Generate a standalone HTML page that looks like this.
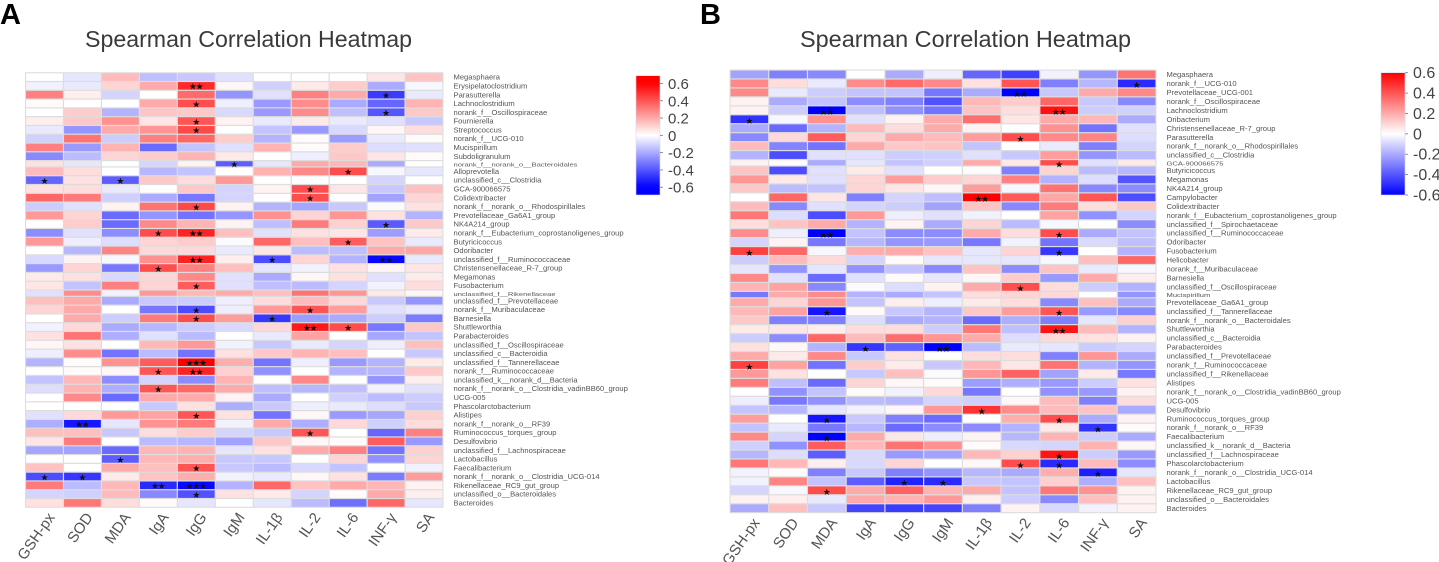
<!DOCTYPE html>
<html lang="en">
<head>
<meta charset="utf-8">
<title>Spearman Correlation Heatmaps</title>
<style>
html,body{margin:0;padding:0;background:#fff;}
body{width:1439px;height:562px;overflow:hidden;}
svg{display:block;font-family:"Liberation Sans","DejaVu Sans",sans-serif;}
</style>
</head>
<body>
<svg id="figure" xmlns="http://www.w3.org/2000/svg" width="1439" height="562" viewBox="0 0 1439 562">
  <text x="0" y="24" font-size="29" font-weight="700" fill="#000">A</text>
  <text x="700" y="24" font-size="29" font-weight="700" fill="#000">B</text>
  <text x="85" y="47" font-size="23" fill="#3a3a3a" textLength="327" lengthAdjust="spacingAndGlyphs">Spearman Correlation Heatmap</text>
  <text x="800" y="47" font-size="23" fill="#3a3a3a" textLength="331" lengthAdjust="spacingAndGlyphs">Spearman Correlation Heatmap</text>
  <g id="panel-a"></g>
  <g id="panel-b"></g>
</svg>
<script>
const categories = ["GSH-px","SOD","MDA","IgA","IgG","IgM","IL-1β","IL-2","IL-6","INF-γ","SA"];

const taxaA = ["Megasphaera","Erysipelatoclostridium","Parasutterella","Lachnoclostridium","norank_f__Oscillospiraceae","Fournierella","Streptococcus","norank_f__UCG-010","Mucispirillum","Subdoligranulum","norank_f__norank_o__Bacteroidales","Alloprevotella","unclassified_c__Clostridia","GCA-900066575","Colidextribacter","norank_f__norank_o__Rhodospirillales","Prevotellaceae_Ga6A1_group","NK4A214_group","norank_f__Eubacterium_coprostanoligenes_group","Butyricicoccus","Odoribacter","unclassified_f__Ruminococcaceae","Christensenellaceae_R-7_group","Megamonas","Fusobacterium","unclassified_f__Rikenellaceae","unclassified_f__Prevotellaceae","norank_f__Muribaculaceae","Barnesiella","Shuttleworthia","Parabacteroides","unclassified_f__Oscillospiraceae","unclassified_c__Bacteroidia","unclassified_f__Tannerellaceae","norank_f__Ruminococcaceae","unclassified_k__norank_d__Bacteria","norank_f__norank_o__Clostridia_vadinBB60_group","UCG-005","Phascolarctobacterium","Alistipes","norank_f__norank_o__RF39","Ruminococcus_torques_group","Desulfovibrio","unclassified_f__Lachnospiraceae","Lactobacillus","Faecalibacterium","norank_f__norank_o__Clostridia_UCG-014","Rikenellaceae_RC9_gut_group","unclassified_o__Bacteroidales","Bacteroides"];

const valuesA = [
[0,-.06,.16,-.15,-.13,-.07,0,0,0,.06,.14],
[-.03,-.05,.1,.2,.5,.02,-.11,.05,.12,-.2,-.02],
[.3,.04,-.1,0,.35,-.25,-.07,.3,.2,-.46,-.05],
[.01,0,0,.2,.42,-.04,-.24,.27,-.2,-.36,.18],
[0,.12,-.18,.14,.13,-.09,-.24,.27,-.15,-.4,.13],
[.04,.13,.26,.06,.4,.03,-.05,.05,-.05,-.07,-.13],
[-.05,-.25,.2,.25,.43,0,-.14,-.24,-.09,.02,.08],
[-.11,.33,-.12,.3,.36,.12,-.18,.01,-.23,-.05,.01],
[.3,-.24,.18,-.35,-.14,-.07,.18,.01,.12,-.08,-.07],
[-.28,-.16,.1,.12,.18,.05,0,-.04,.13,.06,.01],
[.07,-.06,0,-.1,.03,-.38,-.06,.2,.17,-.2,0],
[.16,.08,0,-.17,-.14,0,.18,.28,.42,-.02,-.06],
[-.36,.07,-.38,.13,.08,.24,0,0,0,-.1,0],
[.07,.08,-.05,0,.13,-.1,.03,.42,.06,-.13,.15],
[.36,.31,-.11,-.2,-.32,-.1,0,.42,0,-.22,.1],
[-.12,-.07,.03,.33,.43,.03,-.18,-.21,-.13,-.01,.07],
[.24,.1,-.35,-.25,-.33,-.25,.26,.1,.25,.07,-.18],
[0,.12,-.35,.28,.18,.03,-.15,.31,.11,-.39,.13],
[-.27,-.07,-.27,.42,.52,.15,-.07,.07,.06,-.23,.05],
[.24,-.04,-.08,.1,.12,-.01,.36,.15,.38,.14,-.05],
[0,-.17,.29,.09,.09,-.05,.06,-.16,-.15,.2,.21],
[-.09,.03,-.02,.26,.52,.04,-.42,.1,-.18,-.58,-.05],
[-.24,.1,-.32,.42,.3,.15,-.06,-.03,.07,.02,.06],
[.05,.07,-.09,.1,.28,-.07,-.2,.02,.07,-.07,.05],
[.06,-.14,.3,.1,.38,-.07,-.15,-.16,-.1,-.03,.08],
[-.07,.27,-.03,.24,.17,.2,.15,.33,.25,.05,.02],
[.15,.2,-.2,-.13,-.12,-.04,.08,.16,.09,-.13,-.25],
[.1,.2,0,-.32,-.42,-.04,.24,.4,.23,-.07,-.05],
[0,.2,-.12,.31,.42,.23,-.47,-.23,-.2,-.12,-.31],
[-.03,.09,-.2,-.17,-.12,-.09,.09,.54,.42,-.32,.13],
[.07,.33,-.19,-.07,-.16,0,-.05,.22,0,-.21,-.14],
[.02,.07,0,.17,.24,-.03,-.13,-.05,-.1,-.04,.15],
[-.04,.27,-.33,-.16,-.33,.07,.13,.18,.15,0,-.13],
[-.18,.01,.26,.38,.6,.19,-.33,-.04,-.24,-.18,.05],
[0,.01,.02,.4,.52,.11,-.26,0,-.18,-.17,.13],
[-.14,.17,-.27,-.1,-.27,.18,0,.28,0,-.25,.04],
[-.08,.18,-.19,.4,.36,.2,-.15,-.17,-.15,-.03,-.07],
[0,.28,-.35,.2,.2,.03,-.2,0,-.11,-.16,-.12],
[0,0,0,-.13,.07,-.19,-.13,-.04,-.05,-.08,-.13],
[-.07,.09,.24,.22,.4,.07,-.33,.02,-.24,-.21,.11],
[-.19,-.55,-.06,.26,.31,-.03,.2,-.19,.09,-.11,.08],
[.15,.15,-.13,.08,.12,-.1,-.13,.4,0,-.36,.3],
[.06,.31,0,-.16,-.17,-.22,.13,.02,.01,.38,-.24],
[-.21,-.22,-.35,.17,.18,-.06,.07,.2,.3,-.33,.11],
[0,0,-.38,.17,.19,-.13,-.13,0,.1,-.26,.1],
[.14,0,.2,.15,.4,-.13,-.16,-.09,-.14,0,-.03],
[-.42,-.47,.05,.14,.19,-.03,-.05,.02,.07,-.31,.23],
[.31,-.16,.17,-.5,-.58,-.18,.36,.14,.2,.17,.03],
[-.1,-.11,.16,-.28,-.41,.07,.05,-.1,.01,.2,.04],
[.07,.32,.08,.01,-.06,0,-.06,-.16,-.34,.36,-.06]
];

/* significance: [row number, column number, star count] */
const starsA = [[2,5,2],[3,10,1],[4,5,1],[5,10,1],[6,5,1],[7,5,1],[11,6,1],[12,9,1],[13,1,1],[13,3,1],[14,8,1],[15,8,1],[16,5,1],[18,10,1],[19,4,1],[19,5,2],[20,9,1],[22,5,2],[22,7,1],[22,10,2],[23,4,1],[25,5,1],[28,5,1],[28,8,1],[29,5,1],[29,7,1],[30,8,2],[30,9,1],[34,5,3],[35,4,1],[35,5,2],[37,4,1],[40,5,1],[41,2,2],[42,8,1],[45,3,1],[46,5,1],[47,1,1],[47,2,1],[48,4,2],[48,5,3],[49,5,1]];

const taxaB = ["Megasphaera","norank_f__UCG-010","Prevotellaceae_UCG-001","norank_f__Oscillospiraceae","Lachnoclostridium","Oribacterium","Christensenellaceae_R-7_group","Parasutterella","norank_f__norank_o__Rhodospirillales","unclassified_c__Clostridia","GCA-900066575","Butyricicoccus","Megamonas","NK4A214_group","Campylobacter","Colidextribacter","norank_f__Eubacterium_coprostanoligenes_group","unclassified_f__Spirochaetaceae","unclassified_f__Ruminococcaceae","Odoribacter","Fusobacterium","Helicobacter","norank_f__Muribaculaceae","Barnesiella","unclassified_f__Oscillospiraceae","Mucispirillum","Prevotellaceae_Ga6A1_group","unclassified_f__Tannerellaceae","norank_f__norank_o__Bacteroidales","Shuttleworthia","unclassified_c__Bacteroidia","Parabacteroides","unclassified_f__Prevotellaceae","norank_f__Ruminococcaceae","unclassified_f__Rikenellaceae","Alistipes","norank_f__norank_o__Clostridia_vadinBB60_group","UCG-005","Desulfovibrio","Ruminococcus_torques_group","norank_f__norank_o__RF39","Faecalibacterium","unclassified_k__norank_d__Bacteria","unclassified_f__Lachnospiraceae","Phascolarctobacterium","norank_f__norank_o__Clostridia_UCG-014","Lactobacillus","Rikenellaceae_RC9_gut_group","unclassified_o__Bacteroidales","Bacteroides"];

const valuesB = [
[-.22,-.3,-.28,0,-.2,-.04,-.36,-.45,-.03,-.25,.33],
[.28,.08,-.05,.27,.35,.28,.07,.4,-.3,-.17,-.5],
[.28,-.05,-.12,-.14,-.14,-.32,-.2,-.6,-.13,.2,.28],
[.03,-.2,-.14,-.27,-.3,-.41,.17,.12,.36,-.13,-.28],
[.03,-.12,-.6,-.15,-.26,-.33,.14,.08,.56,-.12,-.11],
[-.48,-.02,.26,-.07,.03,.2,.34,.06,.2,.17,-.2],
[-.2,-.35,-.18,.16,.08,.2,.03,0,.26,-.33,-.07],
[-.28,.09,.38,.1,.2,.16,.23,.42,.28,.29,-.08],
[.16,-.29,-.33,.2,.13,.14,-.14,0,-.05,-.3,-.1],
[-.18,-.42,-.07,-.07,-.12,-.11,-.07,-.13,.23,-.25,-.16],
[.03,.01,-.2,-.06,-.14,-.11,.2,.05,.42,-.07,.05],
[.14,-.42,-.07,.05,-.07,0,.01,-.3,.1,-.16,-.17],
[.25,.05,-.07,.1,.23,.12,.1,.3,-.18,-.08,-.4],
[.13,-.16,-.14,.1,.06,.02,.23,-.02,.33,-.28,-.27],
[0,.36,.06,-.3,-.1,-.15,.6,.39,.21,.4,-.42],
[.16,-.28,-.07,-.1,-.12,-.22,.14,-.28,.31,.08,.13],
[.32,-.08,-.42,.24,-.04,-.07,-.03,0,.22,-.26,-.1],
[.08,.14,.2,-.18,.03,-.2,.1,-.16,-.02,0,-.27],
[.27,-.04,-.6,-.14,-.27,-.27,.2,.08,.42,-.2,-.14],
[-.1,.03,-.32,-.17,-.25,-.24,-.32,-.03,-.33,-.09,-.15],
[.45,.36,-.02,.19,.2,.14,-.06,.1,-.47,0,-.18],
[-.12,.16,.09,-.1,.01,-.06,-.06,-.06,-.02,.15,.36],
[-.06,-.25,-.06,-.26,-.14,-.28,.14,-.27,.14,-.05,-.02],
[.28,-.07,-.35,-.07,.01,-.06,.02,.12,-.24,.2,.04],
[.18,.22,-.28,-.01,-.08,.03,.2,.42,.08,-.12,-.18],
[-.32,.2,.27,-.18,-.2,-.14,.08,.1,.09,0,-.25],
[.2,.1,.25,-.14,.04,-.04,.05,.08,-.28,.15,-.2],
[.17,.22,-.55,.01,-.13,-.18,.13,.23,.4,-.24,-.28],
[.13,-.3,-.3,-.08,-.2,-.18,-.35,-.19,-.3,-.06,.11],
[.05,.06,.04,.08,.08,-.12,.32,-.15,.55,.16,-.18],
[-.12,-.27,.36,.16,.34,.25,.2,-.08,.09,.07,.03],
[.07,.02,-.18,-.47,-.37,-.6,-.16,-.05,-.06,-.12,-.1],
[.2,.05,.28,-.13,.07,0,.08,.08,-.3,.25,-.2],
[.45,.22,-.33,.12,.05,-.13,.17,.06,.33,-.18,-.25],
[.24,.07,0,-.13,.15,-.01,.25,.37,-.22,.05,-.32],
[.31,-.15,-.35,.1,.02,.01,-.23,-.19,-.24,-.12,.07],
[0,-.26,-.14,.01,-.03,.09,-.32,0,-.26,-.24,.03],
[-.04,-.32,-.26,-.16,-.17,-.1,-.11,.02,.16,-.3,.08],
[-.14,-.17,-.06,-.03,.02,.24,.48,.27,.16,.14,-.2],
[.23,0,-.55,-.13,-.3,-.35,0,.19,.42,-.2,.03],
[-.14,-.05,-.32,-.17,-.35,-.27,-.27,-.18,.05,-.48,.01],
[.28,-.1,-.6,.2,.06,-.04,.03,-.17,.18,-.12,-.2],
[-.11,-.26,.38,.17,.33,.26,.01,-.09,-.1,.18,.02],
[-.17,-.08,-.38,-.09,-.24,-.22,.17,.11,.55,-.12,-.24],
[.32,.17,.04,-.09,.1,0,.02,.42,-.5,.16,-.27],
[-.03,.01,-.3,-.13,-.3,-.25,-.17,-.2,.19,-.53,-.06],
[-.03,.29,-.14,-.38,-.52,-.5,-.13,-.14,.11,-.19,.15],
[-.1,-.02,.42,.2,.37,.18,.2,-.14,.32,.26,.03],
[.03,.04,-.05,.2,.18,.24,.04,-.12,-.28,.15,.03],
[-.2,.15,-.13,-.44,-.46,-.44,-.3,.03,-.09,-.03,.03]
];

const starsB = [[2,11,1],[3,8,2],[5,3,2],[5,9,2],[6,1,1],[8,8,1],[11,9,1],[15,7,2],[19,3,2],[19,9,1],[21,1,1],[21,9,1],[25,8,1],[28,3,1],[28,9,1],[30,9,2],[32,4,1],[32,6,2],[34,1,1],[39,7,1],[40,3,1],[40,9,1],[41,10,1],[42,3,1],[44,9,1],[45,8,1],[45,9,1],[46,10,1],[47,5,1],[47,6,1],[48,3,1]];

const colorTicksA = [0.6,0.4,0.2,0,-0.2,-0.4,-0.6];
const colorTicksB = [0.6,0.4,0.2,0,-0.2,-0.4,-0.6];
const thinRowsA = [11,26];
const thinRowsB = [11,26];
const colorMax = 0.6;

const NS = "http://www.w3.org/2000/svg";
function make(tag, attrs, parent, text){
  const node = document.createElementNS(NS, tag);
  for (const k in attrs) node.setAttribute(k, attrs[k]);
  if (text !== undefined) node.textContent = text;
  parent.appendChild(node);
  return node;
}
function colorOf(v){
  const t = Math.min(Math.abs(v) / colorMax, 1);
  const c = Math.round(255 * (1 - t));
  return v >= 0 ? `rgb(255,${c},${c})` : `rgb(${c},${c},255)`;
}

function drawPanel(cfg){
  const g = document.getElementById(cfg.id);
  const nCols = categories.length;
  const nRows = cfg.taxa.length;
  const thinK = 0.72;
  const units = nRows - cfg.thin.length * (1 - thinK);
  const fullH = (cfg.y1 - cfg.y0) / units;
  const colW = (cfg.x1 - cfg.x0) / nCols;
  const rowTop = [];
  const rowH = [];
  let cursor = cfg.y0;
  for (let r = 0; r < nRows; r++){
    const h = cfg.thin.includes(r + 1) ? fullH * thinK : fullH;
    rowTop.push(cursor);
    rowH.push(h);
    cursor += h;
  }
  const xAt = c => cfg.x0 + c * colW;

  const bg = make("rect", {x:cfg.x0-0.5, y:cfg.y0-0.5, width:cfg.x1-cfg.x0+1, height:cfg.y1-cfg.y0+1, fill:"#ddd"}, g);
  
  

  cfg.values.forEach((row, r) => {
    row.forEach((v, c) => {
      const cell = make("rect", {x:xAt(c)+0.6, y:rowTop[r]+0.6, width:colW-1.2, height:rowH[r]-1.2, fill:colorOf(v)}, g);
      
      
    });
  });

  cfg.stars.forEach(s => {
    const r = s[0] - 1, c = s[1] - 1, n = s[2];
    const cx = xAt(c) + colW / 2;
    for (let i = 0; i < n; i++){
      const star = make("text", {x:cx + (i - (n - 1) / 2) * 6.7, y:rowTop[r] + rowH[r] / 2 + cfg.starDy, "text-anchor":"middle", "font-size":9, fill:"#111", style:'font-family:"DejaVu Sans",sans-serif'}, g, "★");
      
      
    }
  });

  cfg.taxa.forEach((name, r) => {
    const thin = cfg.thin.includes(r + 1);
    const cy = rowTop[r] + rowH[r] / 2 + 2.6;
    const label = make("text", {transform:`translate(${cfg.labelX},${cy}) scale(1,${thin ? 0.7 : 1})`, "font-size":cfg.labelSize, fill:"#555"}, g, name);
    
    
  });

  categories.forEach((name, c) => {
    const ax = xAt(c) + colW / 2 + 11;
    const label = make("text", {transform:`translate(${ax},${cfg.y1 + 10}) rotate(-55)`, "text-anchor":"end", "font-size":15, fill:"#555"}, g, name);
    
    
  });

  /* colour bar */
  const gradId = cfg.id + "-grad";
  const defs = make("defs", {}, g);
  const grad = make("linearGradient", {id:gradId, x1:0, y1:0, x2:0, y2:1}, defs);
  for (let i = 0; i <= 24; i++){
    const v = cfg.barMax * (1 - i / 12);
    make("stop", {offset:(i / 24 * 100) + "%", "stop-color":colorOf(v)}, grad);
  }
  const bar = make("rect", {x:cfg.barX, y:cfg.barY0, width:cfg.barW, height:cfg.barY1-cfg.barY0, fill:`url(#${gradId})`, stroke:"#d8d8ee", "stroke-width":0.6}, g);
  
  
  const midY = (cfg.barY0 + cfg.barY1) / 2;
  const barScale = (cfg.barY1 - cfg.barY0) / (2 * cfg.barMax);
  cfg.ticks.forEach(t => {
    const y = midY - t * barScale;
    const tick = make("line", {x1:cfg.barX+cfg.barW, x2:cfg.barX+cfg.barW+3, y1:y, y2:y, stroke:"#777", "stroke-width":0.8}, g);
    
    
    const tl = make("text", {x:cfg.barX+cfg.barW+8, y:y+5.5, "font-size":cfg.barFont, fill:"#444"}, g, String(t));
    
    
  });
}

drawPanel({id:"panel-a", taxa:taxaA, values:valuesA, stars:starsA, thin:thinRowsA, ticks:colorTicksA,
  x0:25.5, x1:443, y0:72.7, y1:507.3, starDy:3.8, labelX:453.5, labelSize:7.6,
  barX:636, barW:24, barY0:75.7, barY1:195, barMax:0.69, barFont:15});
drawPanel({id:"panel-b", taxa:taxaB, values:valuesB, stars:starsB, thin:thinRowsB, ticks:colorTicksB,
  x0:730, x1:1156, y0:70, y1:512.7, starDy:4.8, labelX:1166.5, labelSize:7.6,
  barX:1381, barW:24, barY0:72.7, barY1:195, barMax:0.6, barFont:16});
</script>
</body>
</html>
